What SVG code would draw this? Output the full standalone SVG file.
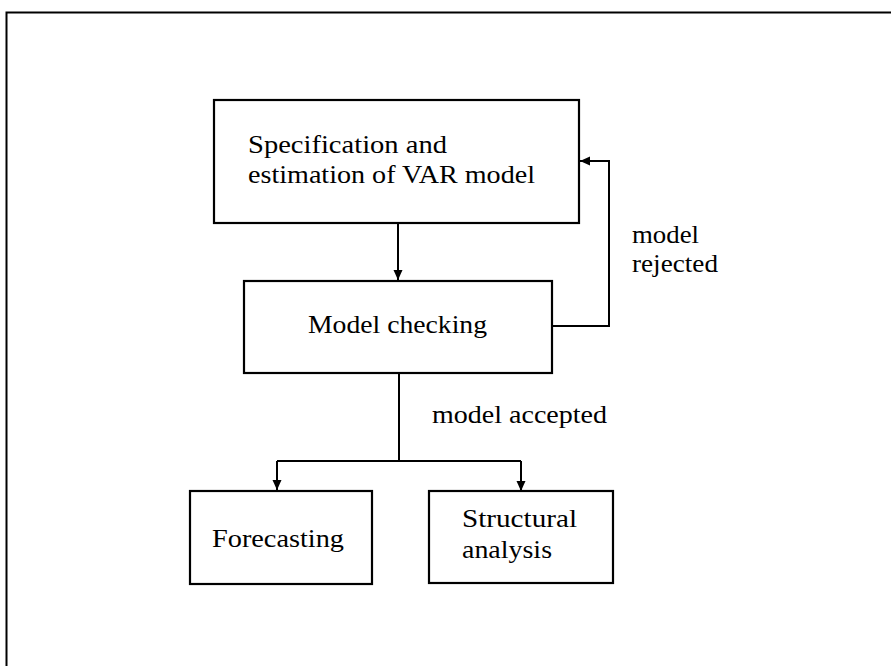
<svg xmlns="http://www.w3.org/2000/svg" width="891" height="666" viewBox="0 0 891 666">
<style>
.box{fill:#fff;stroke:#000;stroke-width:2.2}
.ln{fill:none;stroke:#000;stroke-width:2}
text{font-family:"Liberation Serif","DejaVu Serif",serif;font-size:26px;fill:#000}
</style>
<defs>
<marker id="ah" markerWidth="10" markerHeight="12" refX="10" refY="5" orient="auto" markerUnits="userSpaceOnUse">
<path d="M0,0.5 L10,5 L0,9.5 Z" fill="#000"/>
</marker>
</defs>
<rect width="891" height="666" fill="#fff"/>
<path d="M6.5,666 V12.5 H891" fill="none" stroke="#000" stroke-width="2"/>
<g id="connectors">
<path class="ln" d="M398,223 V280" marker-end="url(#ah)"/>
<path class="ln" d="M552,326 H609 V161 H580" marker-end="url(#ah)"/>
<path class="ln" d="M399,373 V461"/>
<path class="ln" d="M277,461 H521"/>
<path class="ln" d="M277,461 V490" marker-end="url(#ah)"/>
<path class="ln" d="M521,461 V491" marker-end="url(#ah)"/>
</g>
<g id="spec">
<rect class="box" x="214" y="100" width="365" height="123"/>
<text x="248" y="153" textLength="199" lengthAdjust="spacingAndGlyphs">Specification and</text>
<text x="248" y="183" textLength="287" lengthAdjust="spacingAndGlyphs">estimation of VAR model</text>
</g>
<g id="check">
<rect class="box" x="244" y="281" width="308" height="92"/>
<text x="308" y="333" textLength="179" lengthAdjust="spacingAndGlyphs">Model checking</text>
</g>
<g id="forecast">
<rect class="box" x="190" y="491" width="182" height="93"/>
<text x="212" y="547" textLength="132" lengthAdjust="spacingAndGlyphs">Forecasting</text>
</g>
<g id="structural">
<rect class="box" x="429" y="491" width="184" height="92"/>
<text x="462" y="527" textLength="115" lengthAdjust="spacingAndGlyphs">Structural</text>
<text x="462" y="558" textLength="90" lengthAdjust="spacingAndGlyphs">analysis</text>
</g>
<g id="labels">
<text x="632" y="243" textLength="67" lengthAdjust="spacingAndGlyphs">model</text>
<text x="632" y="272" textLength="86" lengthAdjust="spacingAndGlyphs">rejected</text>
<text x="432" y="423" textLength="175" lengthAdjust="spacingAndGlyphs">model accepted</text>
</g>
</svg>
